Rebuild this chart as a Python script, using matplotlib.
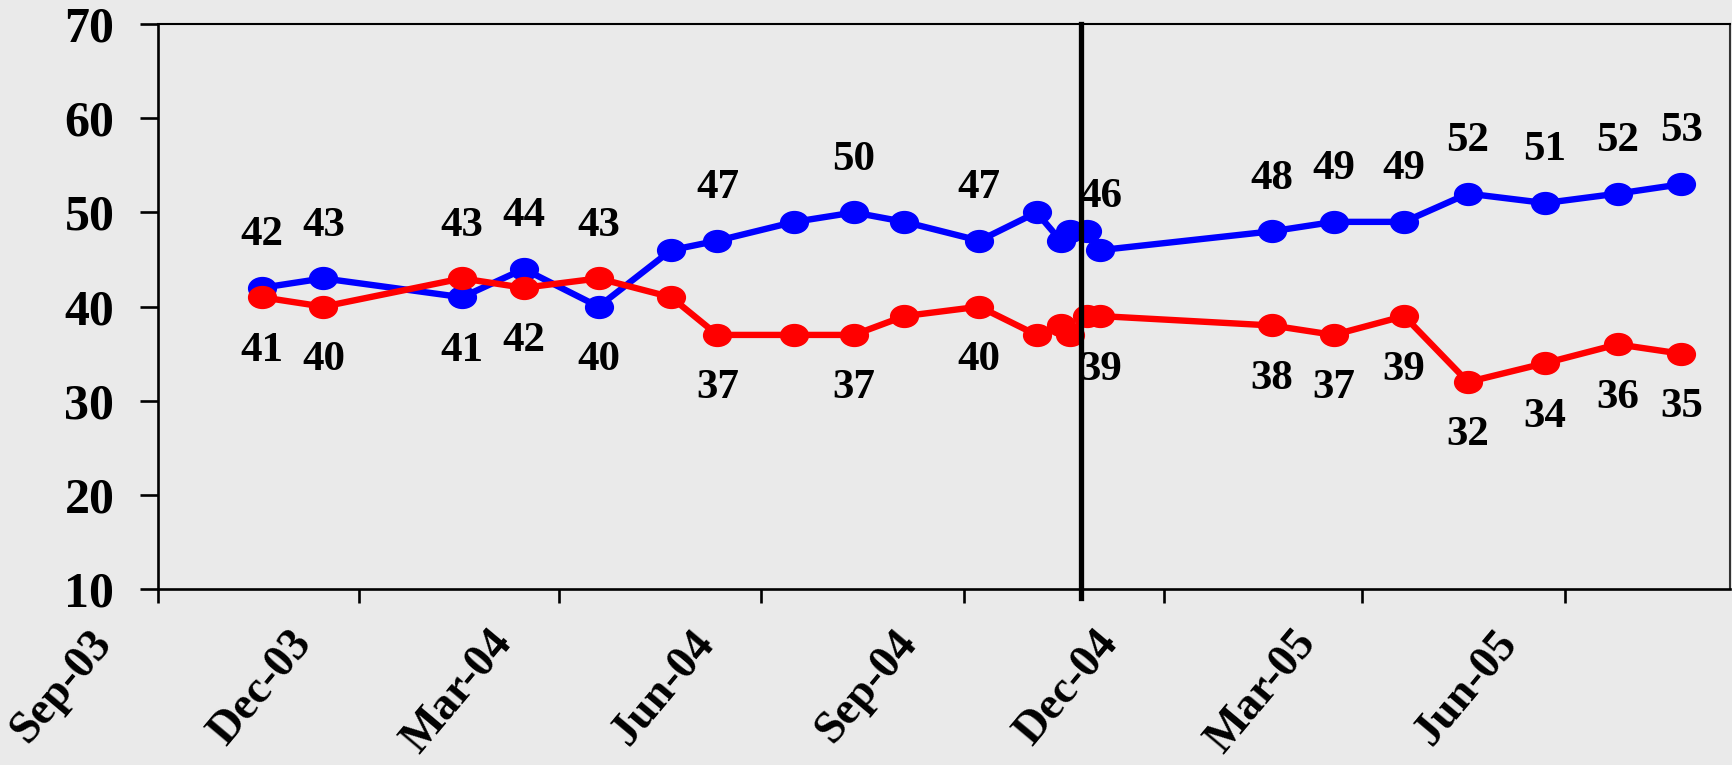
import matplotlib
matplotlib.use("Agg")
import matplotlib.pyplot as plt
import matplotlib.dates as mdates
from matplotlib.path import Path
from matplotlib.transforms import Affine2D, ScaledTranslation
import numpy as np

# poll dates and values
dates = ["2003-10-18", "2003-11-15", "2004-01-17", "2004-02-14", "2004-03-19",
         "2004-04-21", "2004-05-12", "2004-06-16", "2004-07-13", "2004-08-05",
         "2004-09-08", "2004-10-04", "2004-10-15", "2004-10-19", "2004-10-27",
         "2004-11-02", "2005-01-19", "2005-02-16", "2005-03-20", "2005-04-18",
         "2005-05-23", "2005-06-25", "2005-07-24"]
blue_vals = [42, 43, 41, 44, 40, 46, 47, 49, 50, 49, 47, 50, 47, 48, 48, 46,
             48, 49, 49, 52, 51, 52, 53]
red_vals = [41, 40, 43, 42, 43, 41, 37, 37, 37, 39, 40, 37, 38, 37, 39, 39,
            38, 37, 39, 32, 34, 36, 35]
labeled = [0, 1, 2, 3, 4, 6, 8, 10, 15, 16, 17, 18, 19, 20, 21, 22]
tick_dates = ["2003-09-01", "2003-12-01", "2004-03-01", "2004-06-01",
              "2004-09-01", "2004-12-01", "2005-03-01", "2005-06-01"]
divider_date = "2004-10-24"

x = np.array(dates, dtype="datetime64[D]")
bg = "#EAEAEA"
font = "Liberation Serif"

fig = plt.figure(figsize=(17.32, 7.65), dpi=100, facecolor=bg)
ax = fig.add_axes([0.0914, 0.2297, 0.9074, 0.7389], facecolor=bg)

# excel markers come out as slightly wide ellipses
ell = Path.unit_circle().transformed(Affine2D().scale(1.27, 1.0))

ax.plot(x, blue_vals, color="#0000FF", lw=4.6, marker=ell, ms=20, zorder=3)
ax.plot(x, red_vals, color="#FF0000", lw=4.6, marker=ell, ms=20, zorder=3)

d = np.datetime64(divider_date)
ax.plot([d, d], [70, 9.1], color="black", lw=3.8, zorder=5, clip_on=False)

for i in labeled:
    for vals, other in ((blue_vals, red_vals), (red_vals, blue_vals)):
        off = 38 if vals[i] >= other[i] else -38.5
        ax.annotate(str(vals[i]), (x[i], vals[i]), xytext=(0, off),
                    textcoords="offset points", ha="center", va="center",
                    fontsize=31, fontweight="bold", family=font, zorder=6)

ax.set_ylim(10, 70)
ax.set_yticks(range(10, 71, 10))
ax.set_xlim(np.datetime64("2003-09-01"), np.datetime64("2005-08-15"))
ax.set_xticks(np.array(tick_dates, dtype="datetime64[D]"))
ax.xaxis.set_major_formatter(mdates.DateFormatter("%b-%y"))

ax.tick_params(axis="y", direction="out", length=12.7, width=1.9, pad=19,
               labelsize=36, left=True, right=False)
ax.tick_params(axis="x", direction="out", length=10, width=1.9, pad=14,
               labelsize=33, bottom=True, top=False)
for lab in ax.get_yticklabels():
    lab.set_fontfamily(font)
    lab.set_fontweight("bold")
for lab in ax.get_xticklabels():
    lab.set_fontfamily(font)
    lab.set_fontweight("bold")
    lab.set_rotation(50)
    lab.set_ha("right")
    lab.set_va("top")
    lab.set_transform(lab.get_transform() + ScaledTranslation(-0.38, 0, fig.dpi_scale_trans))

ax.spines["left"].set_linewidth(1.9)
ax.spines["bottom"].set_linewidth(1.9)
ax.spines["top"].set_linewidth(1.5)
ax.spines["right"].set_linewidth(1.5)
ax.spines["right"].set_color("#333333")

fig.savefig("out.png", dpi=100, facecolor=bg)
